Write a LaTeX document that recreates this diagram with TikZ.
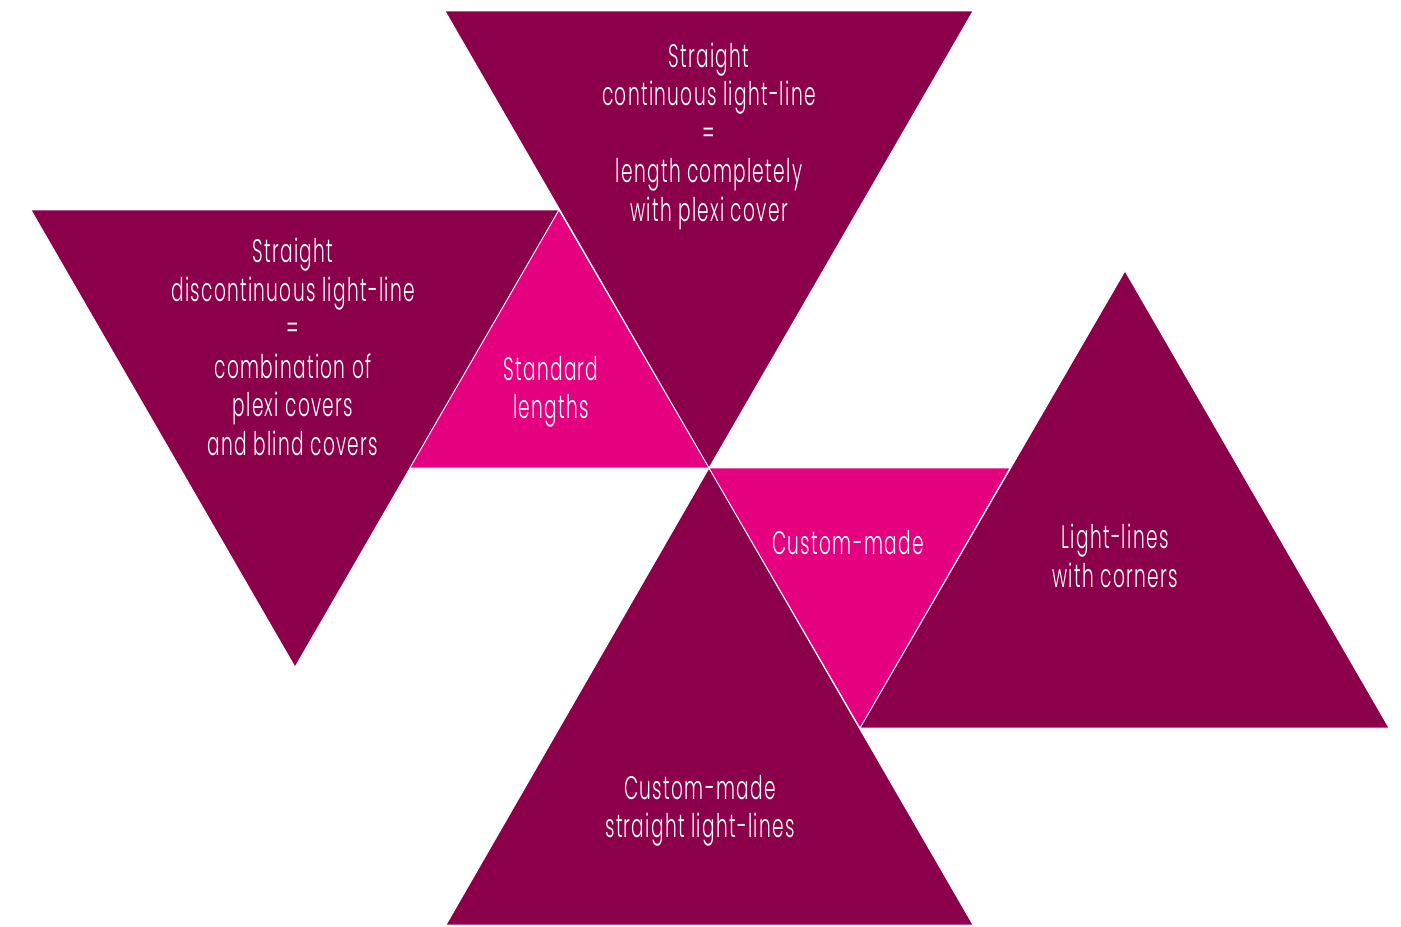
\documentclass[tikz,border=0pt]{standalone}
\usepackage{fontspec}
\setmainfont{Poppins Light}[FakeStretch=0.57,LetterSpace=4]
\usetikzlibrary{positioning}
\definecolor{LineMaroon}{HTML}{8C004B}
\definecolor{LinePink}{HTML}{E4007F}
\tikzset{
  tri/.style={draw=white,line width=0.4pt,line join=miter},
  lbl/.style={text=white,align=center,inner sep=0pt,
    font=\fontsize{16.3}{19.25}\selectfont}
}

\begin{document}
\begin{tikzpicture}[x=0.5pt,y=-0.5pt]
  \useasboundingbox (0,0) rectangle (1401,926);
  \fill[white] (0,0) rectangle (1401,926);
  % big triangles
  \filldraw[tri,fill=LineMaroon] (445,11) -- (973,11) -- (709,468) -- cycle;
  \filldraw[tri,fill=LineMaroon] (31,210) -- (559,210) -- (295,667) -- cycle;
  \filldraw[tri,fill=LineMaroon] (709,468) -- (973,925) -- (446,925) -- cycle;
  \filldraw[tri,fill=LineMaroon] (1125,271) -- (1389,728) -- (860,728) -- cycle;
  % small triangles
  \filldraw[tri,fill=LinePink] (559,210) -- (709,468) -- (410,468) -- cycle;
  \filldraw[tri,fill=LinePink] (709,468) -- (1010,468) -- (860,728) -- cycle;
  % labels
  \node[lbl] (cont) at (709,136) {Straight\\continuous light-line\\=\\length completely\\ with plexi cover};
  \node[lbl] (disc) at (293,347) {Straight\\discontinuous light-line\\=\\combination of\\plexi covers\\and blind covers};
  \node[lbl] (std) at (551,392) {Standard\\lengths};
  \node[lbl] (cust) at (848,543) {Custom-made};
  \node[lbl] (corn) at (1115,556) {Light-lines\\with corners};
  \node[lbl] (strt) at (700,811) {Custom-made\\straight light-lines};
\end{tikzpicture}
\end{document}
